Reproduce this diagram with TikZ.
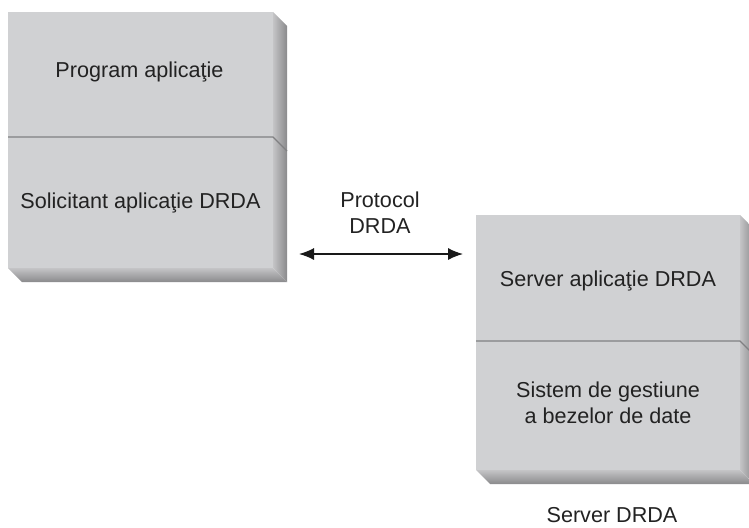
\documentclass[tikz,border=0pt]{standalone}
\usepackage{fontspec}
\setmainfont{Liberation Sans}
\usetikzlibrary{arrows.meta}

\definecolor{faceg}{RGB}{208,209,211}
\definecolor{bevlight}{RGB}{196,196,198}
\definecolor{bevdark}{RGB}{138,138,140}
\definecolor{divg}{RGB}{128,128,130}
\definecolor{txt}{RGB}{34,34,34}

% #1,#2 = top-left of the face, #3,#4 = bottom-right of the face,
% #5 = y of the divider, #6 = bevel depth
\newcommand\bevelbox[6]{%
  \fill[faceg] (#1,#2) rectangle (#3,#4);
  \shade[left color=bevlight, right color=bevdark]
    (#3,#2) -- ({#3+#6},{#2+#6}) -- ({#3+#6},{#4+#6}) -- (#3,#4) -- cycle;
  \shade[top color=bevlight, bottom color=bevdark]
    (#1,#4) -- (#3,#4) -- ({#3+#6},{#4+#6}) -- ({#1+#6},{#4+#6}) -- cycle;
  \draw[divline] (#1,#5) -- (#3,#5) -- ({#3+#6},{#5+#6});
}

\tikzset{
  label/.style={text=txt, font=\fontsize{21.6}{26}\selectfont, align=center, inner sep=0pt},
  divline/.style={draw=divg, line width=1.1pt},
  link/.style={line width=1.3pt, draw=black!90, {Latex[length=15pt,width=12pt]}-{Latex[length=15pt,width=12pt]}}
}

\begin{document}
\begin{tikzpicture}[x=1pt, y=-1pt]
  \useasboundingbox (0,0) rectangle (749,527);
  \clip (0,0) rectangle (749,527);

  % requester side
  \bevelbox{8}{12}{273}{268}{137}{14}
  % server side
  \bevelbox{476}{215}{740}{470}{341}{14}

  \node[label] (prog) at (139.5,72) {Program aplicaţie};
  \node[label] (req)  at (140.5,203) {Solicitant aplicaţie DRDA};

  \node[label] (proto) at (380,213) {Protocol\\DRDA};

  \node[label] (srv) at (608,281) {Server aplicaţie DRDA};
  \node[label] (dbms) at (608,403) {Sistem de gestiune\\a bezelor de date};

  \node[label] (srvname) at (612,515) {Server DRDA};

  \coordinate (la) at (299,254);
  \coordinate (ra) at (463,254);
  \draw[link] (la) -- (ra);
\end{tikzpicture}
\end{document}
